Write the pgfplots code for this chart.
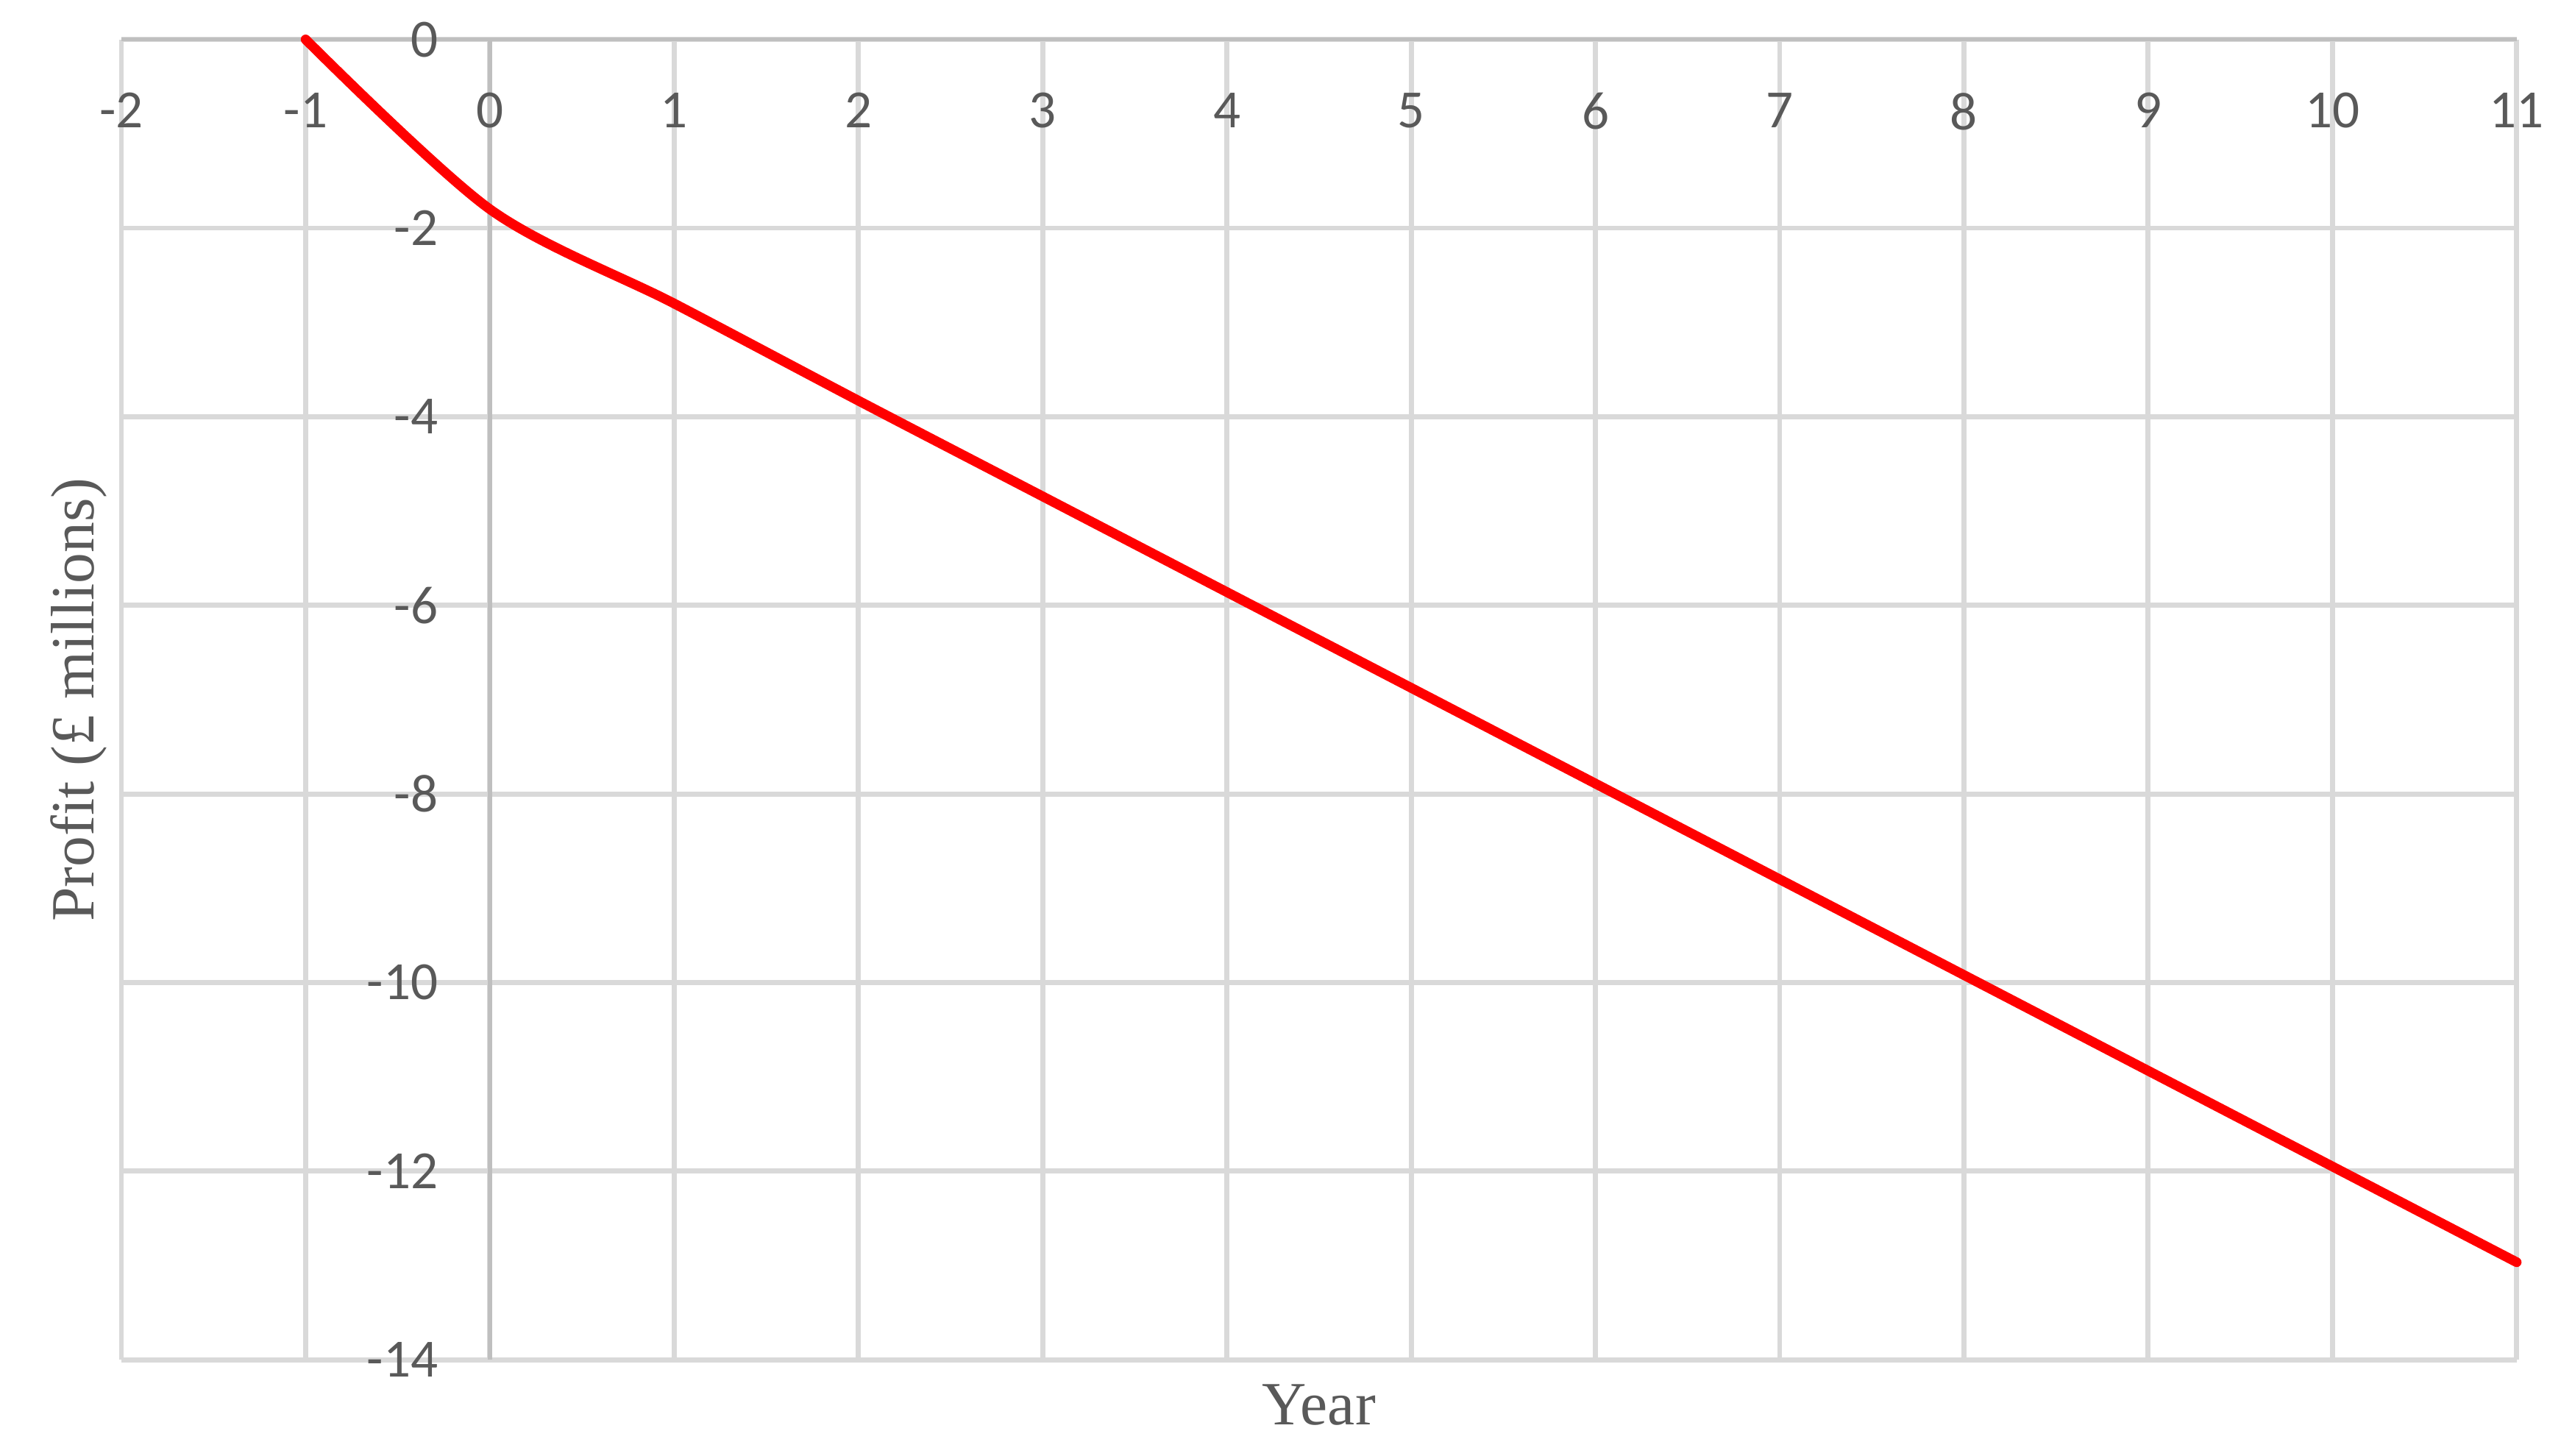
\documentclass[border=0pt]{standalone}
\usepackage{fontspec}
\setmainfont{Carlito}
\newfontfamily\labelfont{Liberation Serif}
\usepackage{pgfplots}
\pgfplotsset{compat=1.18}
\definecolor{tickgray}{HTML}{595959}
\definecolor{gridgray}{HTML}{D9D9D9}
\definecolor{axisgray}{HTML}{BFBFBF}
\begin{document}
\begin{tikzpicture}
\begin{axis}[
  set layers,
  scale only axis,
  width=467.68pt, height=257.80pt,
  xmin=-2, xmax=11, ymin=-14, ymax=0,
  axis lines=middle,
  axis line style={-, draw=axisgray, line width=0.8pt},
  hide obscured x ticks=false,
  hide obscured y ticks=false,
  xtick={-2,-1,...,11},
  ytick={-14,-12,...,0},
  grid=major,
  grid style={draw=gridgray, line width=1pt},
  major tick length=0pt,
  tick style={draw=none},
  /pgf/number format/assume math mode=true,
  ticklabel style={font=\fontsize{10.5}{12}\selectfont, text=tickgray},
  xticklabel style={yshift=-6.9pt},
  yticklabel style={xshift=-6.6pt},
  every axis x label/.style={at={(axis description cs:0.5,-0.0343)}, anchor=center, font=\labelfont\fontsize{12}{14}\selectfont, text=tickgray},
  every axis y label/.style={at={(axis description cs:-0.0177,0.5)}, rotate=90, anchor=center, font=\labelfont\fontsize{12}{14}\selectfont, text=tickgray},
  xlabel={Year},
  ylabel={Profit (£ millions)},
  clip=false,
]
\addplot[color=red, line width=1.9pt, smooth, tension=0.5, line cap=round, line join=round] coordinates {
  (-1,0) (0,-1.8) (1,-2.8) (2,-3.83) (3,-4.845) (4,-5.86) (5,-6.875) (6,-7.89)
  (7,-8.905) (8,-9.92) (9,-10.935) (10,-11.95) (11,-12.965)
};
\end{axis}
\path (-23.70pt,-18.76pt) rectangle (476.30pt,265.50pt);
\end{tikzpicture}
\end{document}
